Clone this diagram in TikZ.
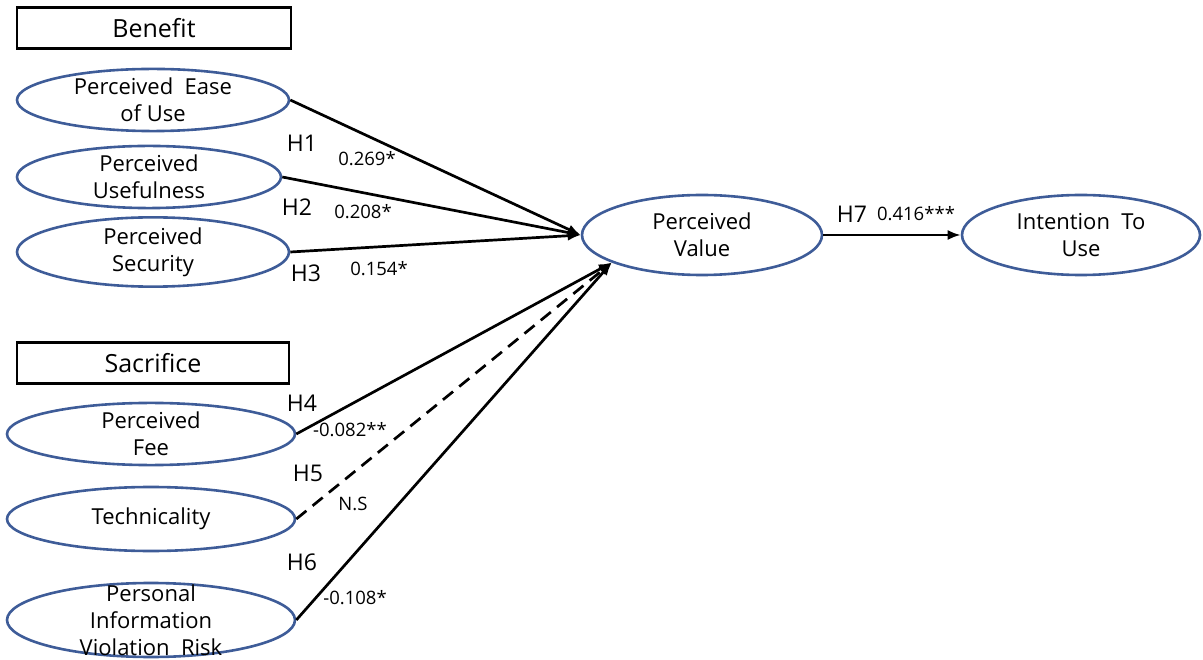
\documentclass[tikz,border=0pt]{standalone}
\usepackage{fontspec}
\setmainfont{Open Sans}
\usetikzlibrary{shapes.geometric,arrows.meta}
\definecolor{ellblue}{RGB}{62,92,152}
\tikzset{
  ell/.style={ellipse,draw=ellblue,line width=2.6pt,inner sep=0pt,align=center,
    font=\fontsize{22}{27}\selectfont},
  elltext/.style={inner sep=0pt,align=center,font=\fontsize{22}{27}\selectfont},
  catbox/.style={rectangle,draw=black,line width=2.8pt,inner sep=0pt,
    font=\fontsize{25}{30}\selectfont},
  hlab/.style={inner sep=0pt,font=\fontsize{23}{27}\selectfont},
  nlab/.style={inner sep=0pt,font=\fontsize{18.5}{22}\selectfont},
  arr/.style={line width=2.7pt,-{Latex[length=13pt,width=10pt]}},
}
\begin{document}
\begin{tikzpicture}[x=1pt,y=-1pt]
\useasboundingbox (0,0) rectangle (1203,660);
% category boxes
\node[catbox,minimum width=274pt,minimum height=41pt] (benefit) at (154,28) {Benefit};
\node[catbox,minimum width=272pt,minimum height=41pt] (sacrifice) at (153,363) {Sacrifice};
% ellipses
\node[ell,minimum width=272pt,minimum height=58pt] (e1) at (153,100) {Perceived\ \ Ease\\of Use};
\node[ell,minimum width=264pt,minimum height=54pt] (e2) at (149,177) {Perceived\\Usefulness};
\node[ell,minimum width=272pt,minimum height=56pt] (e3) at (153,252) {Perceived\\Security};
\node[ell,minimum width=288pt,minimum height=62pt] (e4) at (151,434) {Perceived\\Fee};
\node[ell,minimum width=288pt,minimum height=64pt] (e5) at (151,519) {Technicality};
\node[ell,minimum width=288pt,minimum height=74pt] (e6) at (151,620) {};
\node[elltext] (e6t) at (e6.center) {Personal\\Information\\Violation\ \ Risk};
\node[ell,minimum width=240pt,minimum height=80pt] (pv) at (702,235) {Perceived\\Value};
\node[ell,minimum width=238pt,minimum height=80pt] (itu) at (1081,235) {Intention\ \ To\\Use};
% connectors
\draw[arr] (e1.east) -- (pv.west);
\draw[arr] (e2.east) -- (pv.west);
\draw[arr] (e3.east) -- (pv.west);
\draw[arr] (e4.east) -- (pv.197);
\draw[arr,dash pattern=on 13pt off 8pt] (e5.east) -- (pv.197);
\draw[arr] (e6.east) -- (pv.197);
\draw[arr,line width=2.4pt] (pv.east) -- (itu.west);
% labels
\node[hlab] (h1) at (302,143) {H1};
\node[nlab] (n1) at (367,159) {0.269*};
\node[hlab] (h2) at (297,207) {H2};
\node[nlab] (n2) at (363,212) {0.208*};
\node[hlab] (h3) at (306,273) {H3};
\node[nlab] (n3) at (379,269) {0.154*};
\node[hlab] (h4) at (302,403) {H4};
\node[nlab] (n4) at (350,430) {-0.082**};
\node[hlab] (h5) at (308,473) {H5};
\node[nlab] (n5) at (353,504) {N.S};
\node[hlab] (h6) at (302,562) {H6};
\node[nlab] (n6) at (355,598) {-0.108*};
\node[hlab] (h7) at (852,214) {H7};
\node[nlab] (n7) at (916,214) {0.416***};
\end{tikzpicture}
\end{document}
